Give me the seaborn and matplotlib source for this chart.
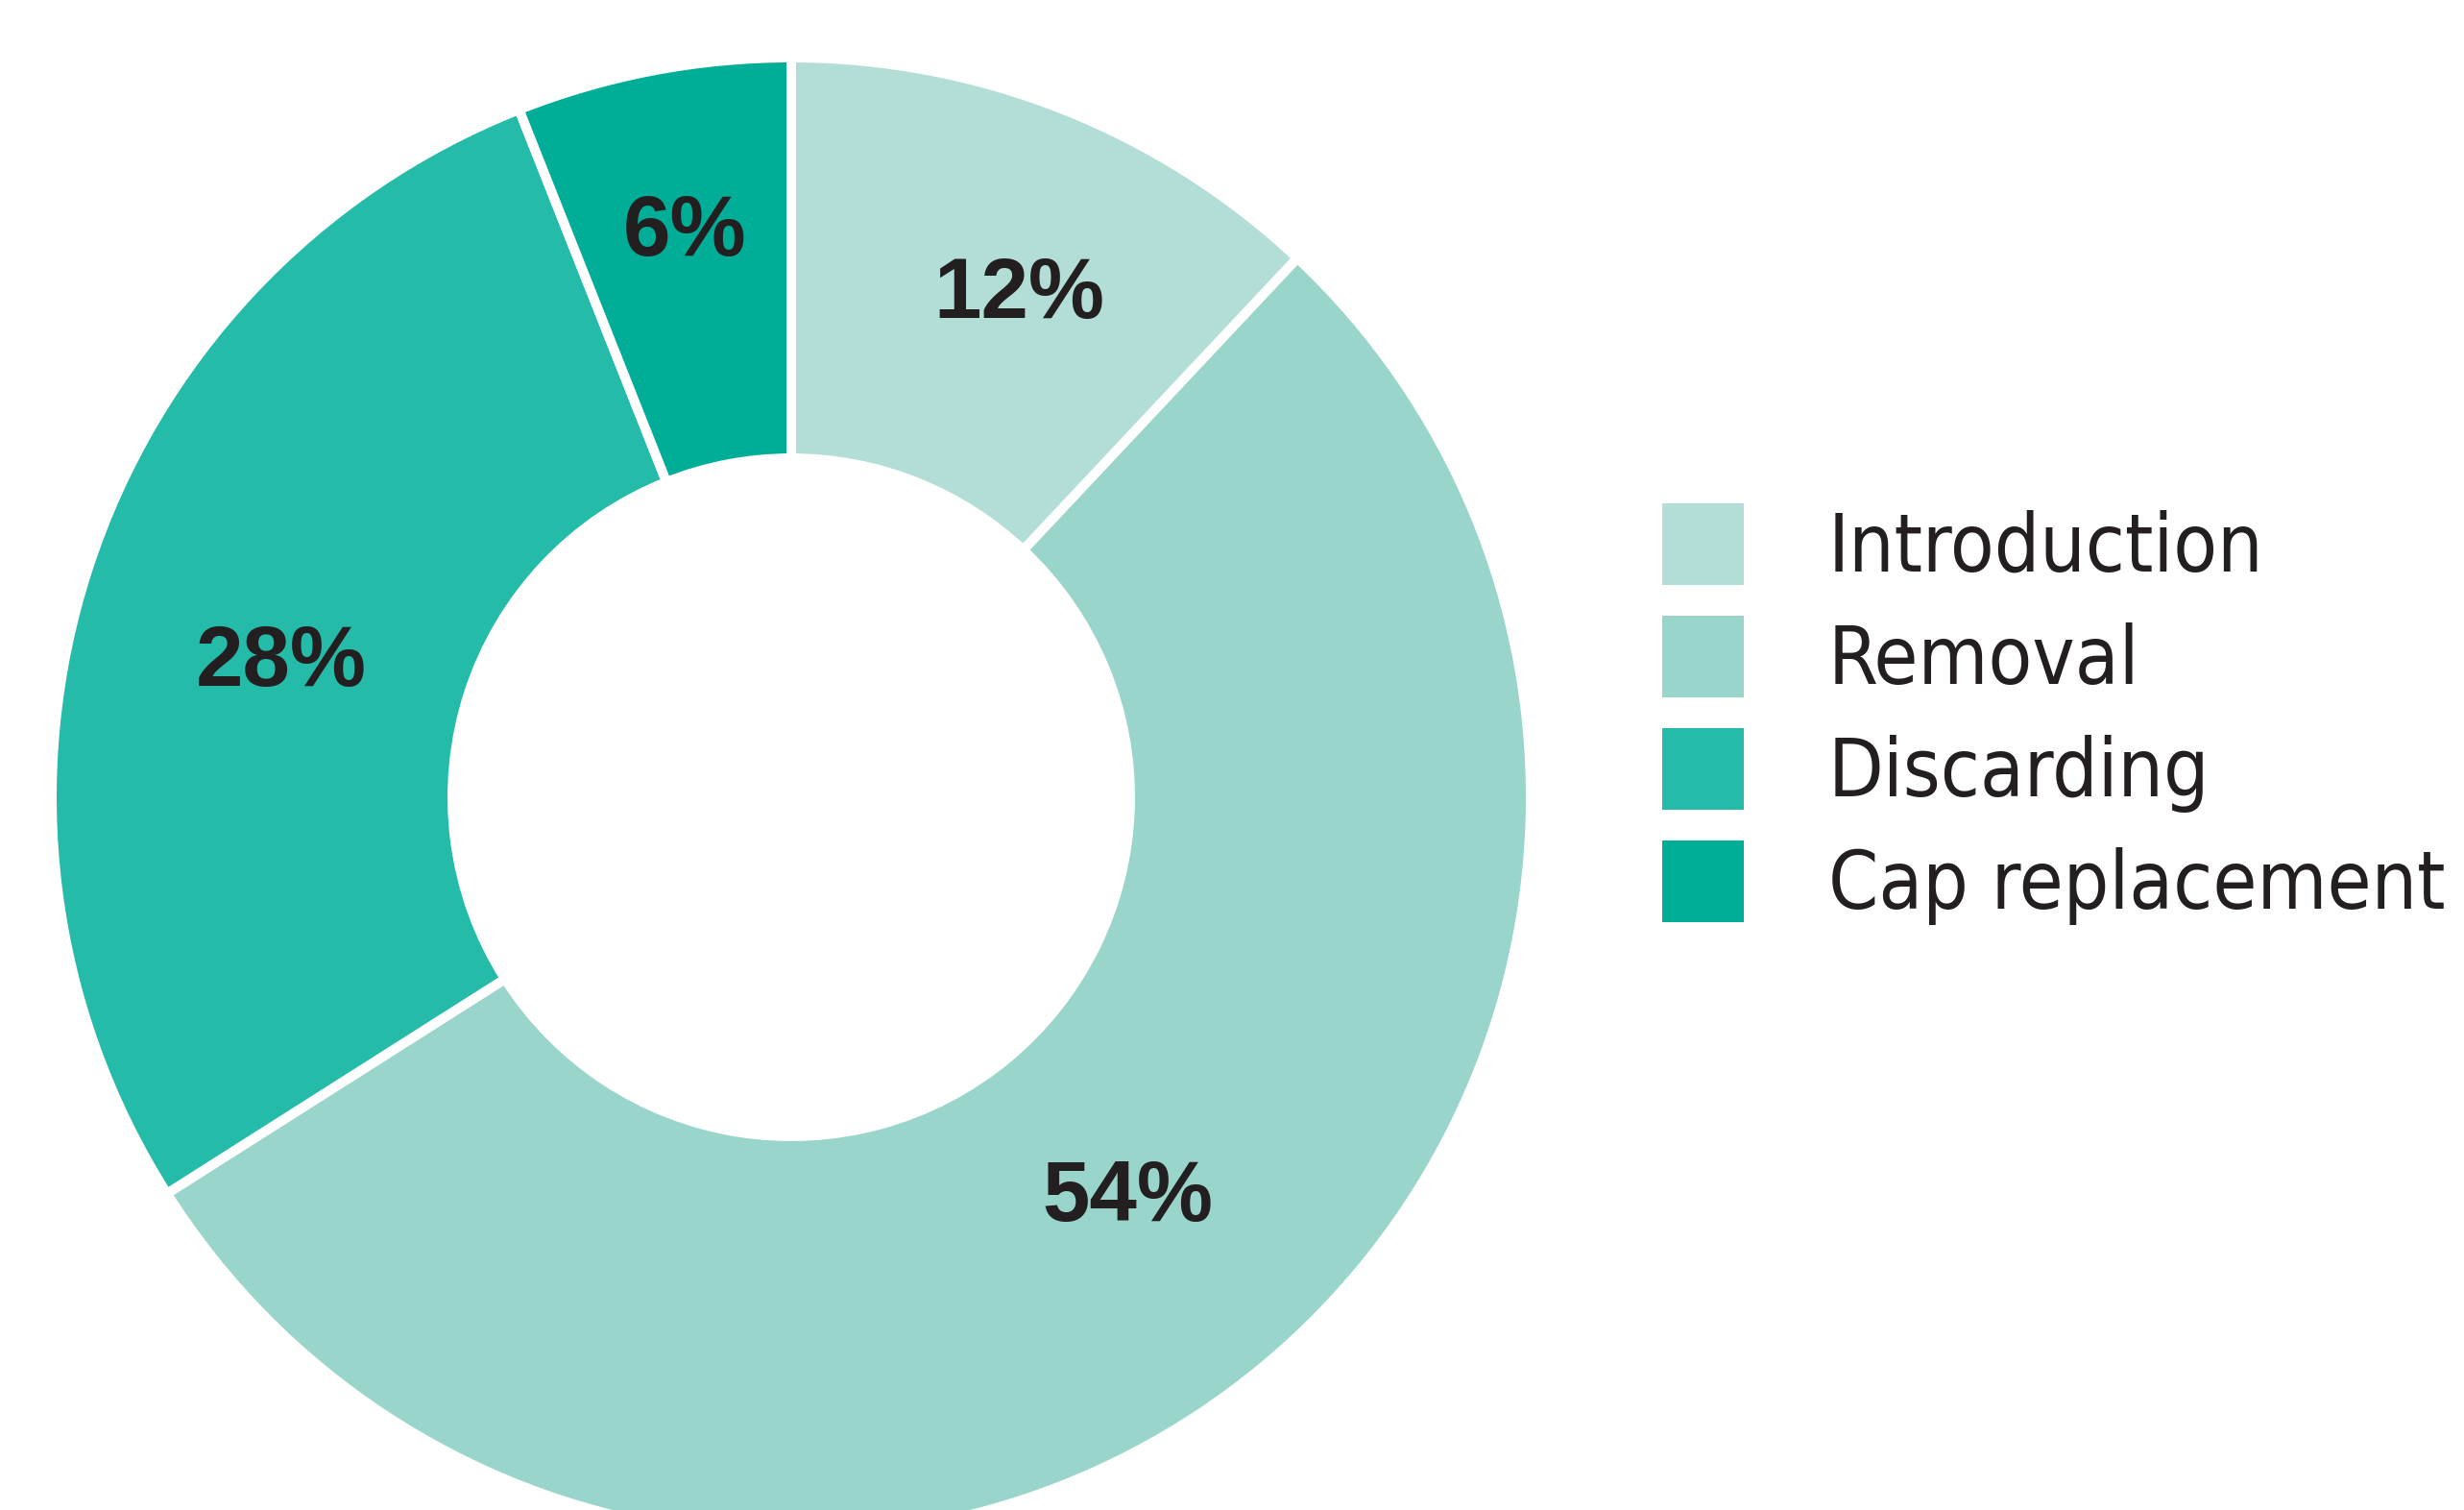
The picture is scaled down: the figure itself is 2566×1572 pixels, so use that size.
import matplotlib
matplotlib.use("Agg")
import matplotlib.pyplot as plt
from matplotlib.patches import Patch
from matplotlib import font_manager as fm
import seaborn as sns

# ---- data ----
categories = ["Introduction", "Removal", "Discarding", "Cap replacement"]
values = [12, 54, 28, 6]
pct_labels = ["12%", "54%", "28%", "6%"]
colors = ["#b2ded7", "#99d5ca", "#24bba9", "#00ad97"]

# ---- layout (label anchor positions in pie-radius units) ----
label_xy = [(0.308, 0.648), (0.455, -0.573), (-0.690, 0.151), (-0.144, 0.732)]

sns.set_theme(style="white")
plt.rcParams["font.family"] = ["Liberation Sans", "DejaVu Sans"]

# look for a condensed face for the legend
cond = [f for f in fm.fontManager.ttflist
        if ("Narrow" in f.name or "Condensed" in f.name or "condensed" in str(f.stretch)
            or "Narrow" in f.fname or "Condensed" in f.fname)]
leg_prop = None
for f in cond:
    if ("Bold" not in f.fname and "Oblique" not in f.fname and "Italic" not in f.fname):
        leg_prop = fm.FontProperties(fname=f.fname, size=60)
        break
if leg_prop is None:
    leg_prop = fm.FontProperties(family=["Liberation Sans", "DejaVu Sans"], size=56)

W, H = 2566, 1572
fig = plt.figure(figsize=(W / 100, H / 100), dpi=100)
cx, cy = 824, 1572 - 830
R = 770
lim = 1.1
S = 2 * lim * R
ax = fig.add_axes([(cx - S / 2) / W, (cy - S / 2) / H, S / W, S / H])

wedges, _ = ax.pie(values, colors=colors, startangle=90, counterclock=False,
                   radius=1.0,
                   wedgeprops=dict(width=0.5416, edgecolor="white", linewidth=7.2))
ax.set_xlim(-lim, lim)
ax.set_ylim(-lim, lim)
ax.set_aspect("equal")
ax.axis("off")

for txt, (x, y) in zip(pct_labels, label_xy):
    ax.text(x, y, txt, ha="center", va="baseline", fontsize=64,
            fontweight="bold", color="#231f20", family=["Liberation Sans", "DejaVu Sans"])

fs = leg_prop.get_size_in_points() * 100 / 72
sq = 85.0
hh = (sq - 0.245 * fs) / (0.65 * fs)
handles = [Patch(facecolor=c, edgecolor="none") for c in colors]


def make_legend(anchor_y, spacing):
    lg = fig.legend(handles, categories, loc="upper left",
                    bbox_to_anchor=(1731 / W, anchor_y / H), frameon=False,
                    borderpad=0, borderaxespad=0,
                    handlelength=sq / fs, handleheight=hh, handletextpad=88 / fs,
                    labelspacing=spacing, prop=leg_prop)
    for t in lg.get_texts():
        t.set_color("#231f20")
    return lg


anchor_y, spacing = 1070.0, 0.2
for _ in range(3):
    leg = make_legend(anchor_y, spacing)
    fig.canvas.draw()
    r = fig.canvas.get_renderer()
    hb = [h.get_window_extent(r) for h in leg.legend_handles]
    step = hb[0].y0 - hb[1].y0
    top = hb[0].y1
    spacing = spacing + (117 - step) / fs
    anchor_y = anchor_y + ((H - 524) - top)
    leg.remove()
leg = make_legend(anchor_y, spacing)

fig.savefig("out.png", dpi=100)
